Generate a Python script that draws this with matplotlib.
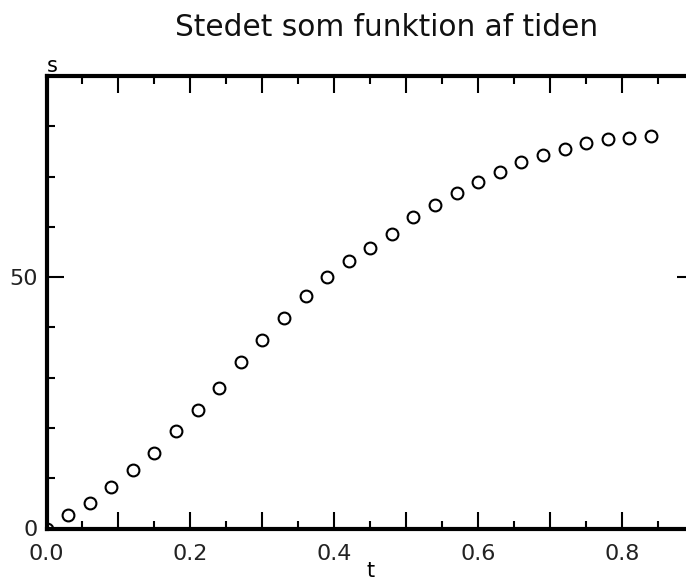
#!/usr/bin/env python3
import matplotlib
matplotlib.use("Agg")
import matplotlib.pyplot as plt
from matplotlib.ticker import MultipleLocator

# tid (s) og sted (m) aflaest fra maalingerne
t = [0.0, 0.03, 0.06, 0.09, 0.12, 0.15, 0.18, 0.21, 0.24, 0.27, 0.30,
     0.33, 0.36, 0.39, 0.42, 0.45, 0.48, 0.51, 0.54, 0.57, 0.60,
     0.63, 0.66, 0.69, 0.72, 0.75, 0.78, 0.81, 0.84]
s = [0.0, 2.6, 5.0, 8.3, 11.6, 15.1, 19.3, 23.6, 28.0, 33.2, 37.5,
     41.8, 46.2, 50.0, 53.3, 55.7, 58.5, 61.9, 64.3, 66.7, 69.0,
     71.0, 72.9, 74.3, 75.5, 76.7, 77.4, 77.6, 78.1]

x_ticks = [0.0, 0.2, 0.4, 0.6, 0.8]
y_ticks = [0, 50]

plt.rcParams["font.family"] = ["DejaVu Sans"]

W, H = 686, 583
fig = plt.figure(figsize=(W / 100, H / 100), dpi=100)
# axes box: right edge runs past the picture, like the original
ax = fig.add_axes([46.5 / W, 54.5 / H, (694 - 46.5) / W, 452.5 / H])

ax.plot(t, s, "o", markersize=8.5, markerfacecolor="white",
        markeredgecolor="black", markeredgewidth=1.5, zorder=1)

ax.set_xlim(0, 0.9)
ax.set_ylim(0, 90)

for sp in ax.spines.values():
    sp.set_linewidth(3)
    sp.set_zorder(3)

ax.xaxis.set_minor_locator(MultipleLocator(0.05))
ax.yaxis.set_minor_locator(MultipleLocator(10))

ax.tick_params(which="both", direction="in", top=True, right=True,
               width=1.5, color="black", labelsize=16, labelcolor="#222222")
ax.tick_params(which="major", length=12)
ax.tick_params(which="minor", length=6)
ax.tick_params(axis="x", pad=11)
ax.tick_params(axis="y", pad=6)

major_x = [v / 10 for v in range(10)]
ax.set_xticks(major_x)
ax.set_xticklabels(["%.1f" % v if any(abs(v - k) < 1e-9 for k in x_ticks) else ""
                    for v in major_x])
ax.set_yticks(y_ticks)
ax.set_yticklabels([str(v) for v in y_ticks])

ax.set_xlabel("t", fontsize=15, labelpad=-2)
ax.text(0.0, 1.0, "s", transform=ax.transAxes, fontsize=15,
        ha="left", va="bottom")

fig.text(387 / W, 1 - 28 / H, "Stedet som funktion af tiden",
         fontsize=21.3, ha="center", va="center", color="#111111")

fig.savefig("out.png", dpi=100)
